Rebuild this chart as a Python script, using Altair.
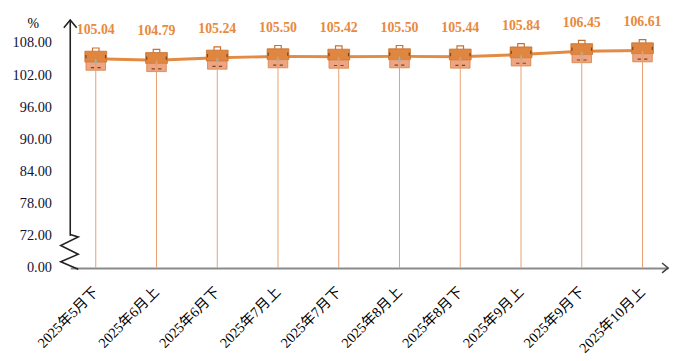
import altair as alt
import pandas as pd

periods = ["2025年5月下", "2025年6月上", "2025年6月下", "2025年7月上", "2025年7月下",
           "2025年8月上", "2025年8月下", "2025年9月上", "2025年9月下", "2025年10月上"]
values = [105.04, 104.79, 105.24, 105.50, 105.42, 105.50, 105.44, 105.84, 106.45, 106.61]
y_ticks = [66, 72, 78, 84, 90, 96, 102, 108]   # 66 stands in for the broken-axis "0.00"
y_base = 66
y_top = 112.3

df = pd.DataFrame({"period": periods, "value": values, "base": [y_base] * len(values)})

W, H = 605, 251
SERIF = "Liberation Serif, Times New Roman, Noto Sans CJK SC"

x_enc = alt.X("period:N", sort=None, title=None,
              scale=alt.Scale(type="point", padding=0.42),
              axis=alt.Axis(labelAngle=-45, labelAlign="right", labelBaseline="middle",
                            labelPadding=22, ticks=False, domainColor="#8a8a8a",
                            domainWidth=2, labelFont=SERIF, labelFontSize=14.5,
                            labelColor="#000000", grid=False, labelOverlap=False))
y_scale = alt.Scale(domain=[y_base, y_top], nice=False, zero=False)
y_axis = alt.Axis(values=y_ticks, domain=False, ticks=False, grid=False, labelOverlap=False,
                  labelExpr="datum.value == 66 ? '0.00' : format(datum.value, '.2f')",
                  labelPadding=19, labelFont=SERIF, labelFontSize=14.5, labelColor="#111133",
                  title="%", titleAngle=0, titleX=-38, titleY=4, titleAlign="center",
                  titleBaseline="middle", titleFont=SERIF, titleFontSize=14,
                  titleFontWeight="normal", titleColor="#000000")
y_enc = alt.Y("value:Q", scale=y_scale, axis=y_axis)

base = alt.Chart(df)

line = base.mark_line(color="#E38A43", strokeWidth=3).encode(x=x_enc, y=y_enc)

top_part = base.mark_point(
    shape="M-1,-0.7 L1,-0.7 L1,0.3 L-1,0.3 Z", size=484, filled=True,
    fill="#DF8640", stroke="#C9702E", strokeWidth=0.8, opacity=1).encode(x=x_enc, y=y_enc)
bottom_part = base.mark_point(
    shape="M-0.9,0.3 L0.9,0.3 L0.9,1.05 L-0.9,1.05 Z", size=484, filled=True,
    fill="#EDA583", stroke="#D9813F", strokeWidth=0.8, opacity=1).encode(x=x_enc, y=y_enc)
handle = base.mark_point(
    shape="M-0.3,-0.7 L-0.3,-1 L0.3,-1 L0.3,-0.7", size=484, filled=False,
    stroke="#C9702E", strokeWidth=1.2, opacity=1).encode(x=x_enc, y=y_enc)
marks = base.mark_point(
    shape="M-0.9,-0.35 L-0.9,-0.05 M0.9,-0.35 L0.9,-0.05 M-0.45,0.8 L-0.15,0.8 M0.15,0.8 L0.45,0.8",
    size=484, filled=False, stroke="#7A4520", strokeWidth=1.2, opacity=1).encode(x=x_enc, y=y_enc)
clasp = base.mark_square(size=6, color="#7FB7B0", opacity=1).encode(
    x=x_enc, y=y_enc, yOffset=alt.value(3))

drop = base.mark_rule(color="#E8A070", strokeWidth=1).encode(x=x_enc, y=y_enc, y2="base:Q")

labels = base.mark_text(font=SERIF, fontSize=14, fontWeight="bold", color="#E8893E",
                        dy=-29).encode(
    x=x_enc, y=y_enc, text=alt.Text("value:Q", format=".2f"))

one = alt.Data(values=[{}])
y_line = alt.Chart(one).mark_rule(color="#222222", strokeWidth=1.6).encode(
    x=alt.value(0), y=alt.Y("a:Q", scale=y_scale, axis=y_axis), y2=alt.value(0)
).transform_calculate(a="72")
zigzag = alt.Chart(one).mark_point(
    shape="M0,-1 L0.46,-0.86 L-0.55,-0.37 L0.46,0.14 L-0.55,0.57 L0.46,1",
    size=1225, filled=False, stroke="#222222", strokeWidth=1.6, opacity=1).encode(
    x=alt.value(0), y=alt.Y("a:Q", scale=y_scale, axis=y_axis)
).transform_calculate(a="69")
y_arrow = alt.Chart(one).mark_point(
    shape="M-1,1.2 L0,0 L1,1.2", size=169, filled=False, stroke="#222222",
    strokeWidth=1.6, opacity=1).encode(x=alt.value(0), y=alt.value(0))
x_arrow = alt.Chart(one).mark_point(
    shape="M-1.2,-1 L0,0 L-1.2,1", size=100, filled=False, stroke="#444444",
    strokeWidth=1.6, opacity=1).encode(x=alt.value(W), y=alt.value(H))

chart = alt.layer(
    line, top_part, bottom_part, handle, marks, clasp, drop, labels,
    y_line, zigzag, y_arrow, x_arrow
).properties(
    width=W, height=H,
    autosize=alt.AutoSizeParams(type="none"),
    padding={"left": 63, "top": 10, "right": 2, "bottom": 86},
    background="white"
).configure_view(stroke=None).configure_axisY(labelOverlap=False)

chart.save("out.html", embed_options={"renderer": "svg", "actions": False})
